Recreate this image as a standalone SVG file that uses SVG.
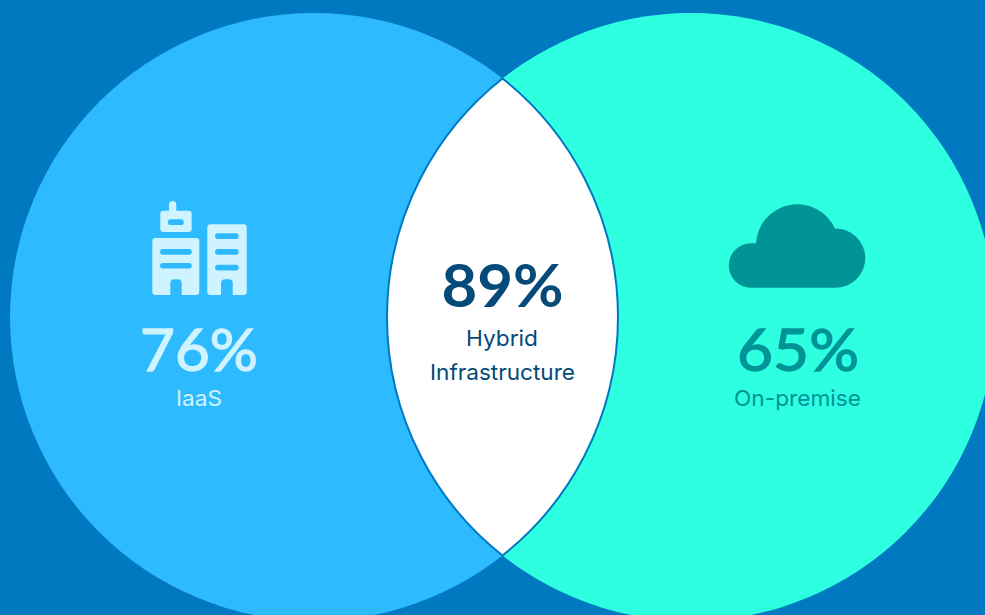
<svg xmlns="http://www.w3.org/2000/svg" width="985" height="615" viewBox="0 0 985 615">
<style>
text{font-family:"Inter","Liberation Sans",sans-serif;text-anchor:middle}
.pct{font-family:"Lato","Liberation Sans",sans-serif;font-size:59px;font-weight:400;stroke-width:1.3px}
.bold{font-weight:700;stroke:none}
.lab{font-size:22px;font-weight:400}
.l{fill:#cff3ff}.r{fill:#009497}.c{fill:#054a78}
.pct.l{stroke:#cff3ff}.pct.r{stroke:#009497}
</style>
<rect width="985" height="615" fill="#0079c1"/>
<g id="iaas">
<circle cx="314" cy="317" r="304" fill="#2dbaff"/>
<path class="l" fill-rule="evenodd" d="M169 210.7V204.6a3.65 3.65 0 0 1 7.3 0V210.7H188.7a3 3 0 0 1 3 3V229a3 3 0 0 1-3 3H163.3a3 3 0 0 1-3-3V213.7a3 3 0 0 1 3-3ZM170.8 219.3a2.85 2.85 0 0 0 0 5.7H180.9a2.85 2.85 0 0 0 0-5.7Z"/>
<path class="l" fill-rule="evenodd" d="M155.3 238H196.3a3 3 0 0 1 3 3V292a3 3 0 0 1-3 3H181.7V283.3a4 4 0 0 0-4-4H174.3a4 4 0 0 0-4 4V295H155.3a3 3 0 0 1-3-3V241a3 3 0 0 1 3-3ZM162.9 249a2.85 2.85 0 0 0 0 5.7H188.9a2.85 2.85 0 0 0 0-5.7ZM162.9 262.9a2.85 2.85 0 0 0 0 5.7H188.9a2.85 2.85 0 0 0 0-5.7Z"/>
<path class="l" fill-rule="evenodd" d="M210.3 224.3H243.7a3 3 0 0 1 3 3V292a3 3 0 0 1-3 3H232.7V283.3a4 4 0 0 0-4-4H225a4 4 0 0 0-4 4V295H210.3a3 3 0 0 1-3-3V227.3a3 3 0 0 1 3-3ZM217.9 233.3a2.85 2.85 0 0 0 0 5.7H235.8a2.85 2.85 0 0 0 0-5.7ZM217.9 249a2.85 2.85 0 0 0 0 5.7H235.8a2.85 2.85 0 0 0 0-5.7ZM217.9 264.7a2.85 2.85 0 0 0 0 5.7H235.8a2.85 2.85 0 0 0 0-5.7Z"/>
<text class="pct l" x="199" y="371" textLength="118" lengthAdjust="spacingAndGlyphs">76%</text>
<text class="lab l" x="199" y="406" textLength="46" lengthAdjust="spacingAndGlyphs">IaaS</text>
</g>
<g id="on-premise">
<circle cx="691" cy="317" r="304" fill="#2dffe0"/>
<path class="r" d="M751 287.7a22.2 22.2 0 0 1 0-44.4H756A41.4 41.4 0 0 1 835 228.5A29.6 29.6 0 0 1 836.4 287.7Z"/>
<text class="pct r" x="798" y="371" textLength="122" lengthAdjust="spacingAndGlyphs">65%</text>
<text class="lab r" x="797.5" y="406" textLength="127" lengthAdjust="spacingAndGlyphs">On-premise</text>
</g>
<g id="hybrid">
<path d="M502.5 78.5A304 304 0 0 1 502.5 555.5A304 304 0 0 1 502.5 78.5Z" fill="#fff" stroke="#0079c1" stroke-width="2"/>
<text class="pct bold c" x="502.5" y="307" textLength="122" lengthAdjust="spacingAndGlyphs">89%</text>
<text class="lab c" x="502" y="345.5" textLength="72" lengthAdjust="spacingAndGlyphs">Hybrid</text>
<text class="lab c" x="502.5" y="379.5" textLength="145" lengthAdjust="spacingAndGlyphs">Infrastructure</text>
</g>
</svg>
